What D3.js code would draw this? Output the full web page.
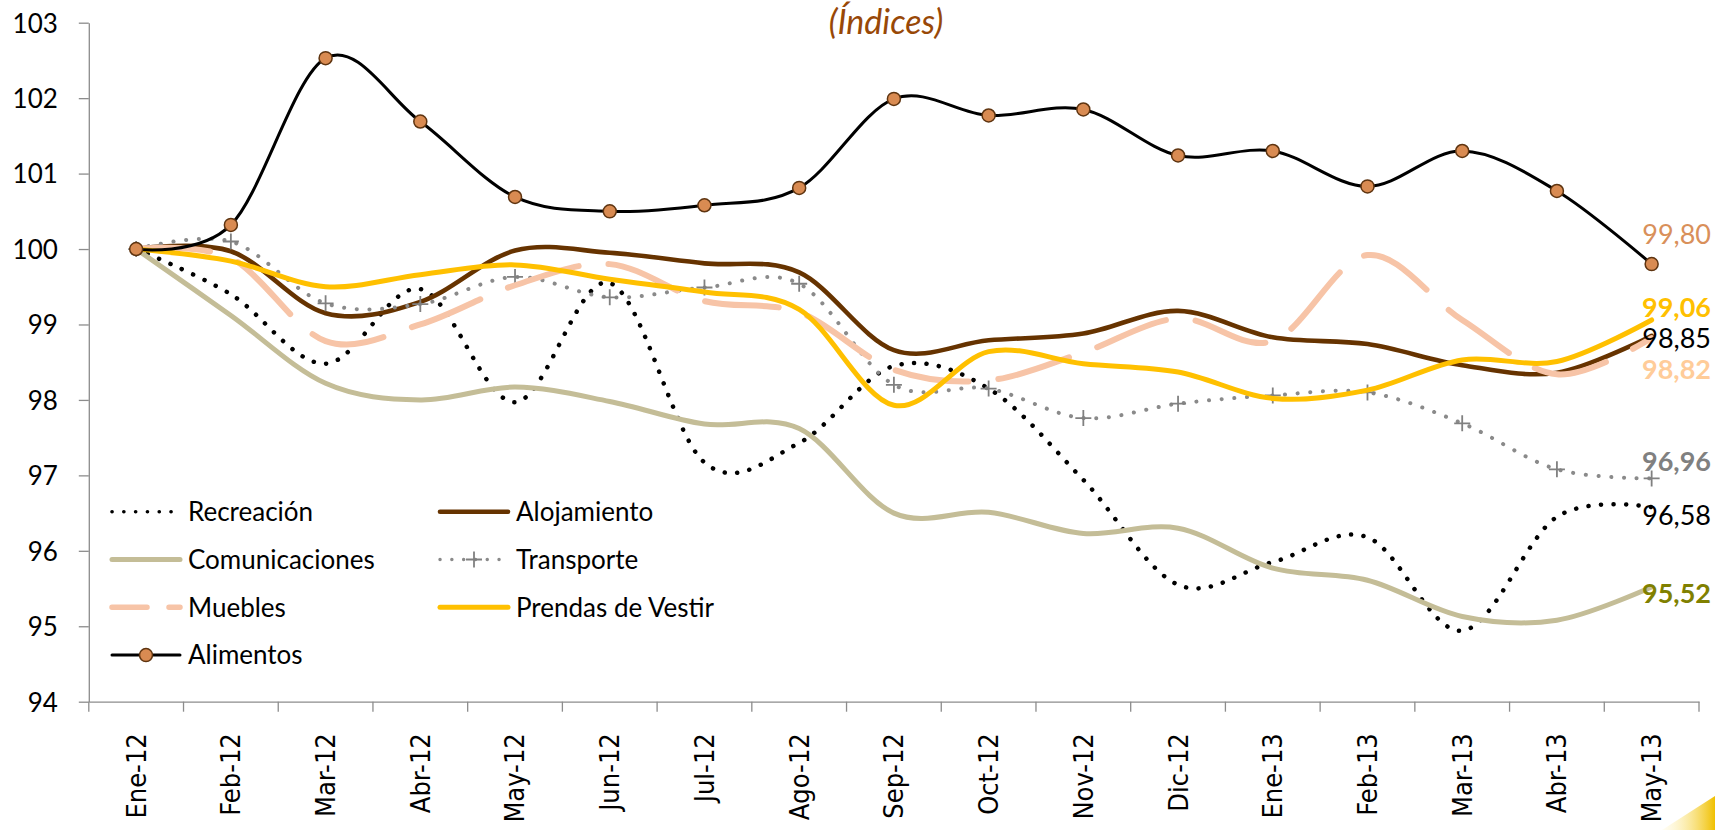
<!DOCTYPE html>
<html>
<head>
<meta charset="utf-8">
<script src="https://cdn.jsdelivr.net/npm/d3@7/dist/d3.min.js"></script>
<style>
    body { margin: 0; background: #fff; }
    svg { display: block; }
    .axis path, .axis line { stroke: #8c8c8c; stroke-width: 1.3; fill: none; }
    .axis.y text { font-family: Lato, sans-serif; font-size: 26px; fill: #000; }
    .axis.x text { font-family: "DejaVu Sans Condensed", "DejaVu Sans", sans-serif; font-size: 27px; fill: #000; }
    .legend text { font-family: Lato, sans-serif; font-size: 26px; fill: #000; }
    .title { font-family: Lato, sans-serif; font-style: italic; font-size: 34px; fill: #984807; }
    .endlabel { font-family: Lato, sans-serif; font-size: 27px; }
</style>
</head>
<body>
<div id="chart"></div>
<script>

// data
var months = ["Ene-12", "Feb-12", "Mar-12", "Abr-12", "May-12", "Jun-12", "Jul-12", "Ago-12", "Sep-12",
    "Oct-12", "Nov-12", "Dic-12", "Ene-13", "Feb-13", "Mar-13", "Abr-13", "May-13"];

var yTicks = [94, 95, 96, 97, 98, 99, 100, 101, 102, 103];

var recreacion     = [100, 99.40, 98.48, 99.47, 97.97, 99.55, 97.17, 97.43, 98.45, 98.15, 96.94, 95.55, 95.85, 96.18, 94.94, 96.45, 96.58];
var alojamiento    = [100, 99.97, 99.15, 99.30, 99.98, 99.95, 99.81, 99.69, 98.66, 98.79, 98.88, 99.18, 98.83, 98.74, 98.46, 98.36, 98.85];
var comunicaciones = [100, 99.12, 98.22, 98.00, 98.17, 97.98, 97.68, 97.62, 96.50, 96.51, 96.23, 96.30, 95.77, 95.61, 95.13, 95.08, 95.52];
var transporte     = [100, 100.10, 99.28, 99.27, 99.63, 99.36, 99.49, 99.54, 98.20, 98.15, 97.76, 97.95, 98.06, 98.10, 97.69, 97.08, 96.96];
var muebles        = [100, 99.88, 98.78, 99.00, 99.52, 99.80, 99.31, 99.16, 98.40, 98.26, 98.63, 99.08, 98.78, 99.92, 99.06, 98.34, 98.82];
var prendas        = [100, 99.84, 99.50, 99.66, 99.79, 99.60, 99.43, 99.20, 97.93, 98.64, 98.48, 98.37, 98.02, 98.13, 98.53, 98.51, 99.06];
var alimentos      = [100, 100.32, 102.53, 101.69, 100.69, 100.50, 100.58, 100.81, 101.99, 101.77, 101.85, 101.24, 101.30, 100.83, 101.30, 100.77, 99.80];

// legend / drawing order follows the workbook series order
var series = [
    {name: "Recreación", values: recreacion, color: "#000", width: 4.5, dash: "0.1 12.4", legendDash: "0.1 11.7", legendWidth: 3.6,
        label: {color: "#000", bold: false, dy: 8}},
    {name: "Alojamiento", values: alojamiento, color: "#663300", width: 4.6,
        label: {color: "#000", bold: false, dy: 2}},
    {name: "Comunicaciones", values: comunicaciones, color: "#c4bd97", width: 5,
        label: {color: "#808000", bold: true, dy: 6}},
    {name: "Transporte", values: transporte, color: "#8a8a8a", width: 4, dash: "0.1 12.6", legendDash: "0.1 11.7", legendWidth: 3.4, cross: true,
        label: {color: "#808080", bold: true, dy: -17}},
    {name: "Muebles", values: muebles, color: "#f7c4a7", width: 6, dash: "74 30", legendDash: "35 22", legendWidth: 5.5,
        label: {color: "#ffcc99", bold: true, dy: 31}},
    {name: "Prendas de Vestir", values: prendas, color: "#ffc000", width: 5,
        label: {color: "#ffc000", bold: true, dy: -13}},
    {name: "Alimentos", values: alimentos, color: "#000", width: 3, dot: true,
        label: {color: "#d9905a", bold: false, dy: -30}}
];

var width = 1715, height = 830;
var plot = {left: 88.8, right: 1699, top: 22.7, bottom: 701.7};

var x = d3.scaleBand().domain(months).range([plot.left, plot.right]);
var y = d3.scaleLinear().domain([94, 103]).range([plot.bottom, plot.top]);

function cx(i) {
    return x(months[i]) + x.bandwidth() / 2;
}

var svg = d3.select("#chart").append("svg")
    .attr("width", width)
    .attr("height", height);

svg.append("rect")
    .attr("width", width)
    .attr("height", height)
    .attr("fill", "#fff");

// yellow corner swoosh
var defs = svg.append("defs");
var grad = defs.append("linearGradient")
    .attr("id", "swoosh")
    .attr("x1", "0%").attr("y1", "0%")
    .attr("x2", "100%").attr("y2", "0%");
grad.append("stop").attr("offset", "0%").attr("stop-color", "#fff6c8").attr("stop-opacity", 0.2);
grad.append("stop").attr("offset", "100%").attr("stop-color", "#f0c000");
svg.append("path")
    .attr("d", "M1662,830 Q1690,812 1715,796 L1715,830 Z")
    .attr("fill", "url(#swoosh)");

// title
svg.append("text")
    .attr("class", "title")
    .attr("x", 886)
    .attr("y", 34)
    .attr("text-anchor", "middle")
    .text("(Índices)");

// y axis
var yAxis = d3.axisLeft(y)
    .tickValues(yTicks)
    .tickSize(10)
    .tickSizeOuter(0)
    .tickPadding(21)
    .tickFormat(d3.format("d"));

var gy = svg.append("g")
    .attr("class", "axis y")
    .attr("transform", "translate(" + plot.left + ",0)")
    .call(yAxis);
gy.selectAll("text").attr("dy", "0.36em");

// x axis, labels centred in each category, tick marks between them
var xAxis = d3.axisBottom(x)
    .tickSize(0)
    .tickSizeOuter(0);

var gx = svg.append("g")
    .attr("class", "axis x")
    .attr("transform", "translate(0," + plot.bottom + ")")
    .call(xAxis);

gx.selectAll(".tick text")
    .attr("x", 0)
    .attr("y", 0)
    .attr("dy", "0.35em")
    .attr("transform", "translate(0,31.5) rotate(-90)")
    .style("text-anchor", "end");

var bounds = months.map(function (m) { return x(m); }).concat([plot.right]);
gx.selectAll(".between")
    .data(bounds)
    .enter().append("line")
    .attr("class", "between")
    .attr("x1", function (d) { return d; })
    .attr("x2", function (d) { return d; })
    .attr("y1", 0)
    .attr("y2", 10);

// lines
var line = d3.line()
    .x(function (d, i) { return cx(i); })
    .y(function (d) { return y(d); })
    .curve(d3.curveCatmullRom.alpha(0));

var lines = svg.append("g").attr("class", "lines");

series.forEach(function (s) {
    lines.append("path")
        .datum(s.values)
        .attr("fill", "none")
        .attr("stroke", s.color)
        .attr("stroke-width", s.width)
        .attr("stroke-linecap", "round")
        .attr("stroke-linejoin", "round")
        .attr("stroke-dasharray", s.dash || null)
        .attr("d", line);

    if (s.cross) {
        lines.append("g").selectAll("path")
            .data(s.values)
            .enter().append("path")
            .attr("d", function (d, i) {
                var px = cx(i), py = y(d);
                return "M" + (px - 8) + "," + py + "H" + (px + 8) + "M" + px + "," + (py - 8) + "V" + (py + 8);
            })
            .attr("stroke", "#808080")
            .attr("stroke-width", 1.8);
    }
    if (s.dot) {
        lines.append("g").selectAll("circle")
            .data(s.values)
            .enter().append("circle")
            .attr("cx", function (d, i) { return cx(i); })
            .attr("cy", function (d) { return y(d); })
            .attr("r", 6.5)
            .attr("fill", "#d98b52")
            .attr("stroke", "#5e3410")
            .attr("stroke-width", 1.5);
    }
});

// end-of-line value labels
var fmt = function (v) { return v.toFixed(2).replace(".", ","); };
svg.append("g").selectAll("text")
    .data(series)
    .enter().append("text")
    .attr("class", "endlabel")
    .attr("x", 1711)
    .attr("y", function (s) { return y(s.values[s.values.length - 1]) + s.label.dy; })
    .attr("dy", "0.36em")
    .attr("text-anchor", "end")
    .attr("fill", function (s) { return s.label.color; })
    .style("font-weight", function (s) { return s.label.bold ? "bold" : "normal"; })
    .text(function (s) { return fmt(s.values[s.values.length - 1]); });

// legend, two columns filled row by row
var legend = svg.append("g").attr("class", "legend");
var colX = [110, 438], rowY0 = 511.7, rowStep = 47.8, sampleLen = 72;

series.forEach(function (s, i) {
    var lx = colX[i % 2], ly = rowY0 + Math.floor(i / 2) * rowStep;
    var g = legend.append("g").attr("transform", "translate(" + lx + "," + ly + ")");
    g.append("line")
        .attr("x1", 2).attr("x2", sampleLen - 2)
        .attr("y1", 0).attr("y2", 0)
        .attr("stroke", s.color)
        .attr("stroke-width", s.legendWidth || s.width)
        .attr("stroke-linecap", "round")
        .attr("stroke-dasharray", s.legendDash || null);
    if (s.cross) {
        g.append("path")
            .attr("d", "M" + (sampleLen / 2 - 8) + ",0H" + (sampleLen / 2 + 8) + "M" + (sampleLen / 2) + ",-8V8")
            .attr("stroke", "#808080")
            .attr("stroke-width", 1.8);
    }
    if (s.dot) {
        g.append("circle")
            .attr("cx", sampleLen / 2)
            .attr("cy", 0)
            .attr("r", 6.5)
            .attr("fill", "#d98b52")
            .attr("stroke", "#5e3410")
            .attr("stroke-width", 1.5);
    }
    g.append("text")
        .attr("x", sampleLen + 6)
        .attr("y", 0)
        .attr("dy", "0.36em")
        .text(s.name);
});

</script>
</body>
</html>
